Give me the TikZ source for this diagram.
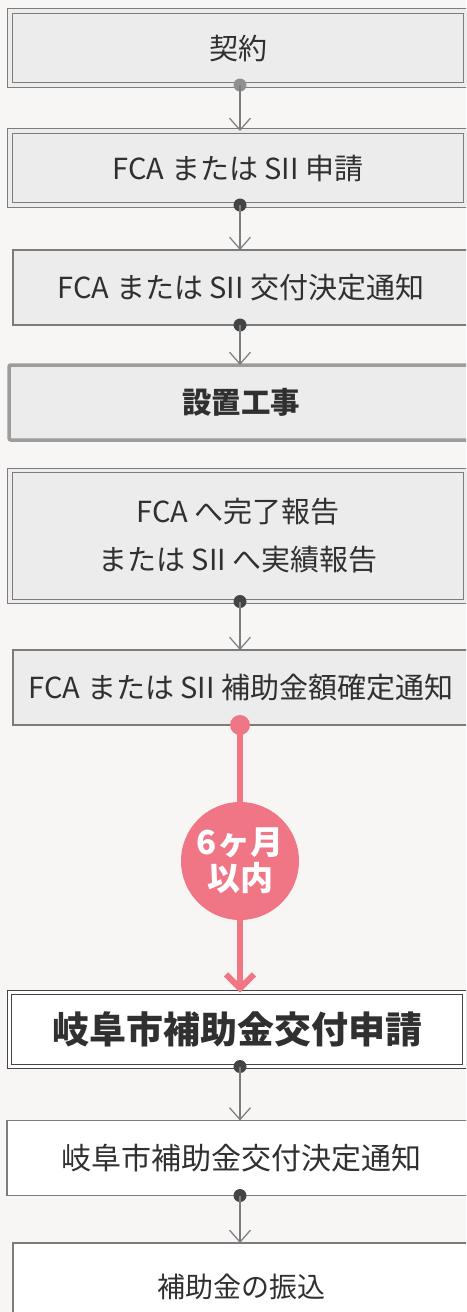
\documentclass[tikz,border=0pt]{standalone}
\usepackage{fontspec}
\setmainfont{Noto Sans CJK JP}
\usetikzlibrary{arrows.meta,positioning}

\definecolor{paper}{HTML}{F8F6F4}
\definecolor{boxgray}{HTML}{ECECEC}
\definecolor{linegray}{HTML}{7C7C7C}
\definecolor{framegray}{HTML}{9C9C9C}
\definecolor{darkgray}{HTML}{444444}
\definecolor{inkgray}{HTML}{303030}
\definecolor{rosepink}{HTML}{F07686}

\tikzset{
  flowbox/.style={draw=linegray, line width=1.2pt, fill=boxgray, text=inkgray,
    minimum width=456pt, minimum height=75pt, inner sep=0pt, outer sep=0pt,
    font=\fontsize{29}{32}\selectfont},
  twinbox/.style={flowbox, double=boxgray, double distance=3.5pt, minimum height=74pt},
  whitebox/.style={draw=darkgray, fill=white, double=white},
  framebox/.style={draw=framegray, line width=3.5pt, rounded corners=2pt, minimum width=464pt,
    font=\fontsize{29.5}{32}\selectfont\bfseries},
  flowarrow/.style={draw=linegray, line width=1.2pt, -{Straight Barb[length=12pt,width=21pt]}},
  rosearrow/.style={draw=rosepink, line width=6pt},
  pinkdisc/.style={circle, fill=rosepink, minimum size=118pt, inner sep=0pt, text=white,
    align=center, font=\fontsize{33}{36}\selectfont\bfseries}
}

\begin{document}
\begin{tikzpicture}[x=1pt,y=-1pt]
    \useasboundingbox (0,0) rectangle (466,1312);
    \clip (0,0) rectangle (466,1312);
    \fill[paper] (0,0) rectangle (466,1312);
    \coordinate (spine) at (240,0);

    % Steps
    \node[twinbox] (keiyaku) at (238,48) {契約};
    \node[twinbox] (shinsei) at (238,168) {FCA または SII 申請};
    \node[flowbox] (kofu) at (241,287.5) {FCA または SII 交付決定通知};
    \node[flowbox, framebox] (koji) at (241,402.5) {設置工事};
    \node[twinbox, minimum height=131pt, align=center, font=\fontsize{29}{48}\selectfont]
        (hokoku) at (238,536) {FCA へ完了報告\\または SII へ実績報告};
    \node[flowbox] (kakutei) at (241,687.5) {FCA または SII 補助金額確定通知};
    \node[pinkdisc] (kigen) at (240,861) {6ヶ月\\以内};
    \node[twinbox, whitebox, minimum width=455pt, font=\fontsize{37}{40}\selectfont\bfseries]
        (gifu) at (237,1029.5) {岐阜市補助金交付申請};
    \node[flowbox, fill=white, minimum width=468pt, font=\fontsize{30}{32}\selectfont]
        (gifukofu) at (241,1158) {岐阜市補助金交付決定通知};
    \node[flowbox, fill=white, minimum height=88pt, font=\fontsize{28}{32}\selectfont]
        (furikomi) at (241,1287) {補助金の振込};

    % Dots
    \fill[linegray!85] (keiyaku.south -| spine) circle[radius=6.5pt];
    \fill[darkgray] (shinsei.south -| spine) circle[radius=6.5pt];
    \fill[darkgray] (kofu.south -| spine) circle[radius=6.5pt];
    \fill[darkgray] (hokoku.south -| spine) circle[radius=6.5pt];
    \fill[rosepink] (kakutei.south -| spine) circle[radius=10pt];
    \fill[darkgray] (gifu.south -| spine) circle[radius=6.5pt];
    \fill[darkgray] (gifukofu.south -| spine) circle[radius=6.5pt];

    % Arrows
    \draw[flowarrow] (keiyaku.south -| spine) -- (shinsei.north -| spine);
    \draw[flowarrow] (shinsei.south -| spine) -- (kofu.north -| spine);
    \draw[flowarrow] (kofu.south -| spine) -- (koji.north -| spine);
    \draw[flowarrow] (hokoku.south -| spine) -- (kakutei.north -| spine);
    \draw[rosearrow] (kakutei.south -| spine) -- (kigen.north);
    \draw[rosearrow, -{Straight Barb[length=14pt,width=28pt]}] (kigen.south) -- (gifu.north -| spine);
    \draw[flowarrow] (gifu.south -| spine) -- (gifukofu.north -| spine);
    \draw[flowarrow] (gifukofu.south -| spine) -- (furikomi.north -| spine);
\end{tikzpicture}
\end{document}
